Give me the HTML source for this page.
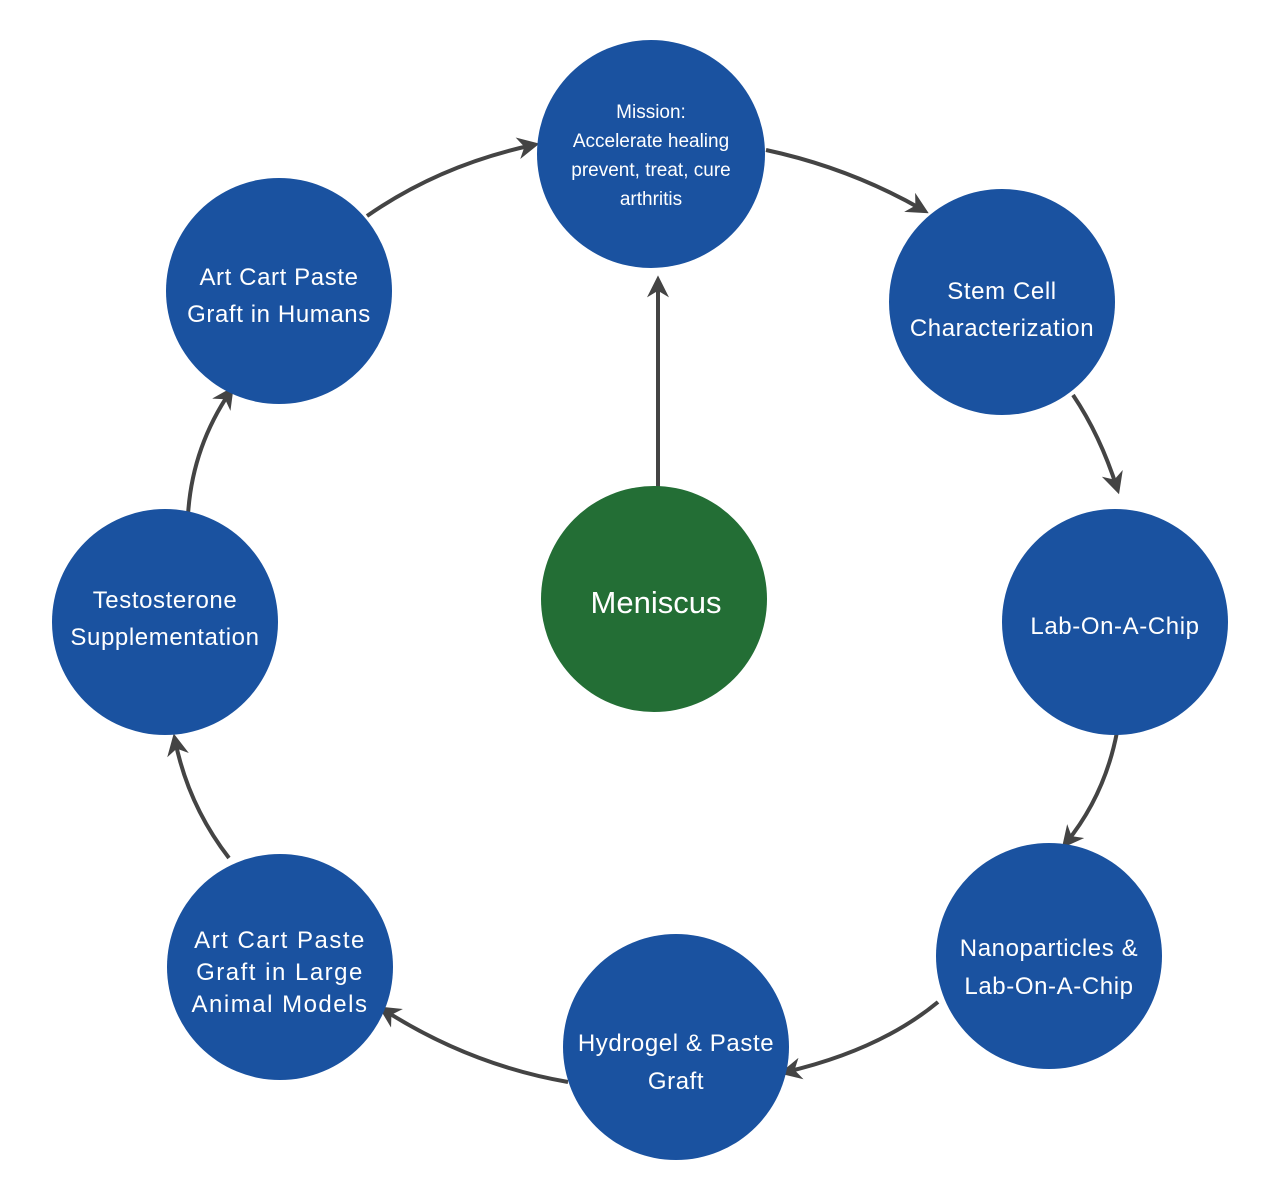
<!DOCTYPE html>
<html><head><meta charset="utf-8"><style>
html,body{margin:0;padding:0;background:#fff;}
svg{display:block;}
text{font-family:"Liberation Sans","DejaVu Sans",sans-serif;fill:#fff;text-anchor:middle;}
</style></head><body>
<svg width="1285" height="1177" viewBox="0 0 1285 1177" xmlns="http://www.w3.org/2000/svg">
<defs>
<marker id="a" viewBox="0 0 10 10" refX="7" refY="5" markerWidth="5.5" markerHeight="5.5" orient="auto" markerUnits="strokeWidth">
<path d="M0,0 L10,5 L0,10 L3,5 z" fill="#444"/></marker>
</defs>
<g fill="none" stroke="#444" stroke-width="4" marker-end="url(#a)">
<path d="M367,216 Q440,165 533,145"/>
<path d="M766,150 Q850,168 923,210"/>
<path d="M1073,395 Q1100,435 1117,488"/>
<path d="M1117,732 Q1105,795 1066,843"/>
<path d="M938,1002 Q880,1050 786,1072"/>
<path d="M568,1082 Q470,1065 384,1010"/>
<path d="M229,858 Q188,805 175,740"/>
<path d="M188,515 Q192,448 230,392"/>
<path d="M658,487 L658,282"/>
</g>
<g fill="#1a52a0">
<circle cx="651" cy="154" r="114"/>
<circle cx="1002" cy="302" r="113"/>
<circle cx="1115" cy="622" r="113"/>
<circle cx="1049" cy="956" r="113"/>
<circle cx="676" cy="1047" r="113"/>
<circle cx="280" cy="967" r="113"/>
<circle cx="165" cy="622" r="113"/>
<circle cx="279" cy="291" r="113"/>
</g>
<circle cx="654" cy="599" r="113" fill="#236e35"/>
<g font-size="19">
<text x="651" y="118">Mission:</text>
<text x="651" y="147">Accelerate healing</text>
<text x="651" y="176">prevent, treat, cure</text>
<text x="651" y="205">arthritis</text>
</g>
<g font-size="24" letter-spacing="0.6">
<text x="1002" y="299">Stem Cell</text>
<text x="1002" y="336">Characterization</text>
<text x="1115" y="634">Lab-On-A-Chip</text>
<text x="1049" y="956">Nanoparticles &amp;</text>
<text x="1049" y="994">Lab-On-A-Chip</text>
<text x="676" y="1051">Hydrogel &amp; Paste</text>
<text x="676" y="1089">Graft</text>
<text x="280" y="948" letter-spacing="1.5">Art Cart Paste</text>
<text x="280" y="980" letter-spacing="1.5">Graft in Large</text>
<text x="280" y="1012" letter-spacing="1.5">Animal Models</text>
<text x="165" y="608">Testosterone</text>
<text x="165" y="645">Supplementation</text>
<text x="279" y="285">Art Cart Paste</text>
<text x="279" y="322">Graft in Humans</text>
</g>
<text x="656" y="613" font-size="31">Meniscus</text>
</svg>
</body></html>
